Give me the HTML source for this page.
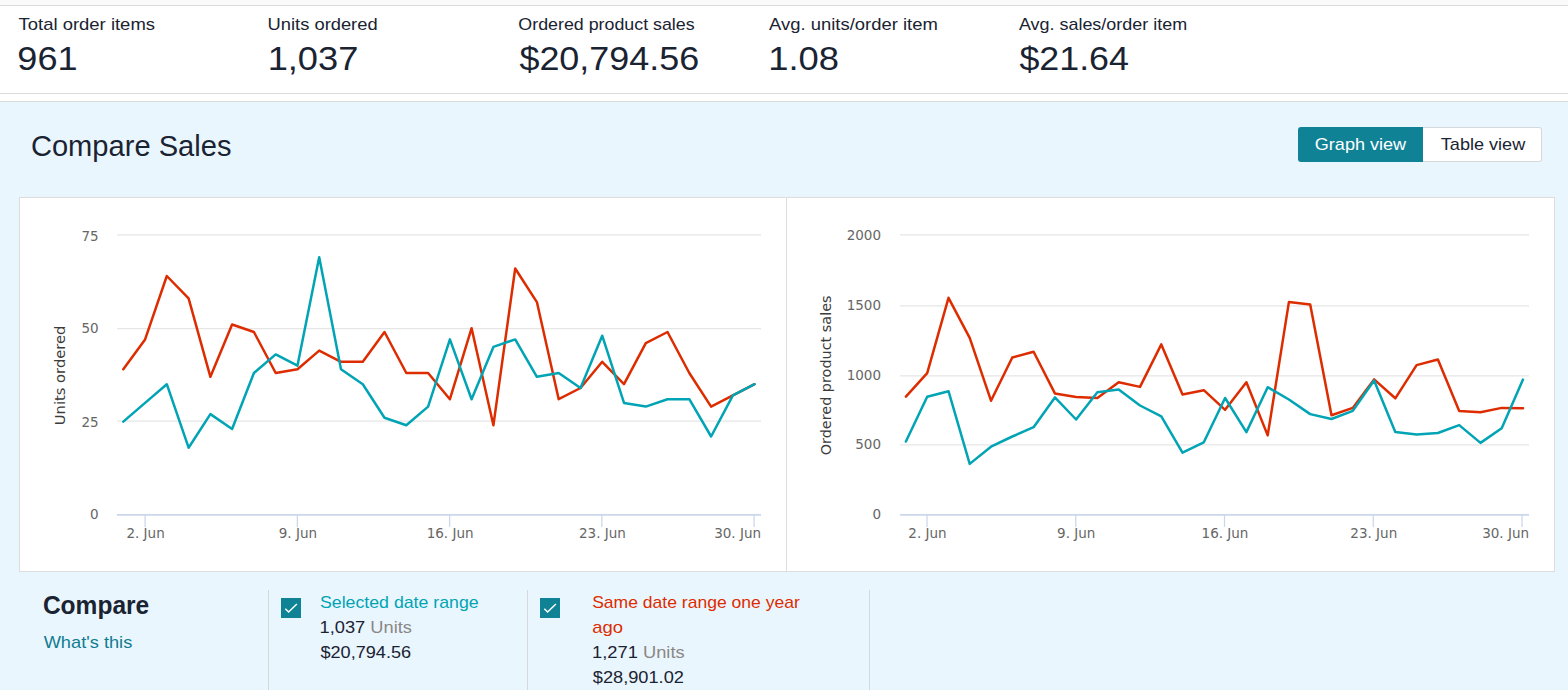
<!DOCTYPE html>
<html><head><meta charset="utf-8"><title>Compare Sales</title>
<style>
html,body{margin:0;padding:0}
body{width:1568px;height:690px;overflow:hidden;position:relative;background:#eaf6fe;font-family:"Liberation Sans",sans-serif;color:#1a2332}
.abs{position:absolute}
#topband{left:0;top:0;width:1568px;height:5px;background:#fafafa}
#metrics{left:0;top:5px;width:1568px;height:87px;background:#fff;border-top:1px solid #dcdcdc;border-bottom:1px solid #d8dadc}
#gap{left:0;top:94px;width:1568px;height:7px;background:#fff;border-bottom:1px solid #d9dbdb}
.tx{position:absolute;left:0;top:0;white-space:nowrap;transform-origin:0 0;display:block}
.b{position:absolute;top:127px;height:35px;box-sizing:border-box}
#b1{left:1298px;width:125px;background:#108296;border-radius:3px 0 0 3px}
#b2{left:1423px;width:119px;background:#fff;border:1px solid #d5d9d9;border-left:none;border-radius:0 3px 3px 0}
#panel{left:19px;top:197px;width:1534px;height:373px;background:#fff;border:1px solid #ddd}
#pdiv{left:786px;top:198px;width:1px;height:373px;background:#ddd}
svg.ch{position:absolute}
.al{font-family:"DejaVu Sans","Liberation Sans",sans-serif;font-size:13.5px;fill:#666}
.at{font-family:"DejaVu Sans","Liberation Sans",sans-serif;font-size:14.6px;fill:#3c3c3c}
.vd{position:absolute;top:590px;width:1px;height:100px;background:#d5d9d9}
.cb{position:absolute;top:598px;width:20px;height:20px;background:#108296}
</style></head><body>
<div id="topband" class="abs"></div>
<div id="metrics" class="abs"></div>
<div id="gap" class="abs"></div>
<div id="b1" class="b"></div><div id="b2" class="b"></div>
<div id="panel" class="abs"></div>
<div id="pdiv" class="abs"></div>
<svg class="ch" style="left:20px;top:198px" width="766" height="371" viewBox="20 198 766 371">
<path d="M117 234.90H761" stroke="#e6e6e6" stroke-width="1.25" fill="none"/>
<text x="98.7" y="240.6" text-anchor="end" class="al">75</text>
<path d="M117 328.60H761" stroke="#e6e6e6" stroke-width="1.25" fill="none"/>
<text x="98.7" y="333.3" text-anchor="end" class="al">50</text>
<path d="M117 421.20H761" stroke="#e6e6e6" stroke-width="1.25" fill="none"/>
<text x="98.7" y="426.8" text-anchor="end" class="al">25</text>
<path d="M117 514.90H761" stroke="#ccd6eb" stroke-width="1.7" fill="none"/>
<text x="98.7" y="519.0" text-anchor="end" class="al">0</text>
<path d="M145.10 514.9V526.9" stroke="#ccd6eb" stroke-width="1.25" fill="none"/>
<text x="145.6" y="538.4" text-anchor="middle" class="al">2. Jun</text>
<path d="M297.35 514.9V526.9" stroke="#ccd6eb" stroke-width="1.25" fill="none"/>
<text x="297.9" y="538.4" text-anchor="middle" class="al">9. Jun</text>
<path d="M449.60 514.9V526.9" stroke="#ccd6eb" stroke-width="1.25" fill="none"/>
<text x="450.1" y="538.4" text-anchor="middle" class="al">16. Jun</text>
<path d="M601.85 514.9V526.9" stroke="#ccd6eb" stroke-width="1.25" fill="none"/>
<text x="602.4" y="538.4" text-anchor="middle" class="al">23. Jun</text>
<path d="M754.10 514.9V526.9" stroke="#ccd6eb" stroke-width="1.25" fill="none"/>
<text x="761" y="538.4" text-anchor="end" class="al">30. Jun</text>
<text transform="translate(64.5 375.4) rotate(-90)" text-anchor="middle" class="at" textLength="99.6" lengthAdjust="spacingAndGlyphs">Units ordered</text>
<polyline points="123.3,369.3 145.1,339.4 166.8,276.0 188.6,298.4 210.4,376.8 232.1,324.5 253.9,332.0 275.7,373.0 297.5,369.3 319.2,350.6 341.0,361.8 362.8,361.8 384.5,332.0 406.3,373.0 428.1,373.0 449.9,399.2 471.6,328.2 493.4,425.3 515.2,268.5 536.9,302.1 558.7,399.2 580.5,388.0 602.2,361.8 624.0,384.2 645.8,343.2 667.5,332.0 689.3,373.0 711.1,406.6 732.9,395.4 754.6,384.2" fill="none" stroke="#dd2c00" stroke-width="2.5" stroke-linejoin="round" stroke-linecap="round"/>
<polyline points="123.3,421.6 145.1,402.9 166.8,384.2 188.6,447.7 210.4,414.1 232.1,429.0 253.9,373.0 275.7,354.4 297.5,365.6 319.2,257.3 341.0,369.3 362.8,384.2 384.5,417.8 406.3,425.3 428.1,406.6 449.9,339.4 471.6,399.2 493.4,346.9 515.2,339.4 536.9,376.8 558.7,373.0 580.5,388.0 602.2,335.7 624.0,402.9 645.8,406.6 667.5,399.2 689.3,399.2 711.1,436.5 732.9,395.4 754.6,384.2" fill="none" stroke="#00a4b4" stroke-width="2.5" stroke-linejoin="round" stroke-linecap="round"/>
</svg>
<svg class="ch" style="left:788px;top:198px" width="766" height="371" viewBox="788 198 766 371">
<path d="M900 234.90H1529" stroke="#e6e6e6" stroke-width="1.25" fill="none"/>
<text x="881" y="239.9" text-anchor="end" class="al">2000</text>
<path d="M900 305.90H1529" stroke="#e6e6e6" stroke-width="1.25" fill="none"/>
<text x="881" y="309.6" text-anchor="end" class="al">1500</text>
<path d="M900 375.90H1529" stroke="#e6e6e6" stroke-width="1.25" fill="none"/>
<text x="881" y="379.6" text-anchor="end" class="al">1000</text>
<path d="M900 444.90H1529" stroke="#e6e6e6" stroke-width="1.25" fill="none"/>
<text x="881" y="448.9" text-anchor="end" class="al">500</text>
<path d="M900 514.90H1529" stroke="#ccd6eb" stroke-width="1.7" fill="none"/>
<text x="881" y="519.0" text-anchor="end" class="al">0</text>
<path d="M927.00 514.9V526.9" stroke="#ccd6eb" stroke-width="1.25" fill="none"/>
<text x="927.5" y="538.4" text-anchor="middle" class="al">2. Jun</text>
<path d="M1075.75 514.9V526.9" stroke="#ccd6eb" stroke-width="1.25" fill="none"/>
<text x="1076.2" y="538.4" text-anchor="middle" class="al">9. Jun</text>
<path d="M1224.50 514.9V526.9" stroke="#ccd6eb" stroke-width="1.25" fill="none"/>
<text x="1225.0" y="538.4" text-anchor="middle" class="al">16. Jun</text>
<path d="M1373.25 514.9V526.9" stroke="#ccd6eb" stroke-width="1.25" fill="none"/>
<text x="1373.8" y="538.4" text-anchor="middle" class="al">23. Jun</text>
<path d="M1522.00 514.9V526.9" stroke="#ccd6eb" stroke-width="1.25" fill="none"/>
<text x="1529" y="538.4" text-anchor="end" class="al">30. Jun</text>
<text transform="translate(831 375.4) rotate(-90)" text-anchor="middle" class="at" textLength="159.8" lengthAdjust="spacingAndGlyphs">Ordered product sales</text>
<polyline points="905.9,396.6 927.2,373.2 948.5,297.8 969.7,337.9 991.0,400.7 1012.3,357.5 1033.6,351.7 1054.9,393.4 1076.1,396.9 1097.4,398.0 1118.7,382.3 1140.0,386.9 1161.3,344.4 1182.5,394.5 1203.8,390.2 1225.1,409.8 1246.4,382.3 1267.7,435.4 1288.9,302.1 1310.2,304.5 1331.5,415.2 1352.8,407.9 1374.1,379.4 1395.3,398.3 1416.6,365.1 1437.9,359.5 1459.2,410.9 1480.5,412.3 1501.7,407.9 1523.0,408.2" fill="none" stroke="#dd2c00" stroke-width="2.5" stroke-linejoin="round" stroke-linecap="round"/>
<polyline points="905.9,441.5 927.2,396.8 948.5,391.2 969.7,463.9 991.0,446.7 1012.3,436.5 1033.6,427.2 1054.9,397.4 1076.1,419.5 1097.4,392.2 1118.7,389.6 1140.0,405.5 1161.3,416.3 1182.5,452.6 1203.8,442.3 1225.1,398.0 1246.4,432.1 1267.7,387.2 1288.9,399.5 1310.2,414.1 1331.5,419.0 1352.8,410.8 1374.1,380.5 1395.3,432.1 1416.6,434.5 1437.9,433.0 1459.2,425.1 1480.5,442.9 1501.7,428.3 1523.0,379.6" fill="none" stroke="#00a4b4" stroke-width="2.5" stroke-linejoin="round" stroke-linecap="round"/>
</svg>
<div class="vd" style="left:268px"></div>
<div class="vd" style="left:527px"></div>
<div class="vd" style="left:869px"></div>
<div class="cb" style="left:281px"><svg width="20" height="20" viewBox="0 0 20 20"><path d="M4.3 10.8L7.6 14L15.9 6" fill="none" stroke="#fff" stroke-width="1.5"/></svg></div>
<div class="cb" style="left:540px"><svg width="20" height="20" viewBox="0 0 20 20"><path d="M4.3 10.8L7.6 14L15.9 6" fill="none" stroke="#fff" stroke-width="1.5"/></svg></div>
<span id="L1" class="tx" style="font-size:17px;line-height:22px;font-weight:400;color:#1a2332;transform:translate(18.50px,14.11px) scaleX(1.0863)">Total order items</span>
<span id="L2" class="tx" style="font-size:17px;line-height:22px;font-weight:400;color:#1a2332;transform:translate(267.60px,14.11px) scaleX(1.0779)">Units ordered</span>
<span id="L3" class="tx" style="font-size:17px;line-height:22px;font-weight:400;color:#1a2332;transform:translate(518.35px,14.11px) scaleX(1.0480)">Ordered product sales</span>
<span id="L4" class="tx" style="font-size:17px;line-height:22px;font-weight:400;color:#1a2332;transform:translate(769.10px,14.11px) scaleX(1.0843)">Avg. units/order item</span>
<span id="L5" class="tx" style="font-size:17px;line-height:22px;font-weight:400;color:#1a2332;transform:translate(1018.90px,14.11px) scaleX(1.0553)">Avg. sales/order item</span>
<span id="V1" class="tx" style="font-size:33.5px;line-height:44px;font-weight:400;color:#1a2332;transform:translate(17.35px,36.74px) scaleX(1.0762)">961</span>
<span id="V2" class="tx" style="font-size:33.5px;line-height:44px;font-weight:400;color:#1a2332;transform:translate(267.65px,36.74px) scaleX(1.0818)">1,037</span>
<span id="V3" class="tx" style="font-size:33.5px;line-height:44px;font-weight:400;color:#1a2332;transform:translate(519.40px,36.74px) scaleX(1.0724)">$20,794.56</span>
<span id="V4" class="tx" style="font-size:33.5px;line-height:44px;font-weight:400;color:#1a2332;transform:translate(768.15px,36.74px) scaleX(1.0857)">1.08</span>
<span id="V5" class="tx" style="font-size:33.5px;line-height:44px;font-weight:400;color:#1a2332;transform:translate(1019.40px,36.74px) scaleX(1.0691)">$21.64</span>
<span id="TT" class="tx" style="font-size:30.1px;line-height:39px;font-weight:400;color:#1a2332;transform:translate(30.90px,126.02px) scaleX(0.9670)">Compare Sales</span>
<span id="B1" class="tx" style="font-size:17px;line-height:22px;font-weight:400;color:#fff;transform:translate(1314.80px,134.21px) scaleX(1.0618)">Graph view</span>
<span id="B2" class="tx" style="font-size:17px;line-height:22px;font-weight:400;color:#1a2332;transform:translate(1440.80px,134.21px) scaleX(1.0633)">Table view</span>
<span id="CP" class="tx" style="font-size:26px;line-height:34px;font-weight:700;color:#1a2332;transform:translate(42.90px,588.49px) scaleX(0.9436)">Compare</span>
<span id="WT" class="tx" style="font-size:17px;line-height:22px;font-weight:400;color:#0f7c90;transform:translate(43.65px,631.61px) scaleX(1.0732)">What's this</span>
<span id="S1" class="tx" style="font-size:17px;line-height:22px;font-weight:400;color:#00a4b4;transform:translate(319.95px,591.71px) scaleX(1.0431)">Selected date range</span>
<span id="S2" class="tx" style="font-size:17px;line-height:22px;font-weight:400;color:#1a2332;transform:translate(319.50px,616.56px) scaleX(1.0744)">1,037 <span style="color:#8a8785">Units</span></span>
<span id="S3" class="tx" style="font-size:17px;line-height:22px;font-weight:400;color:#1a2332;transform:translate(320.45px,641.61px) scaleX(1.0655)">$20,794.56</span>
<span id="R1" class="tx" style="font-size:17px;line-height:22px;font-weight:400;color:#dd2c00;transform:translate(592.15px,591.71px) scaleX(1.0312)">Same date range one year</span>
<span id="R2" class="tx" style="font-size:17px;line-height:22px;font-weight:400;color:#dd2c00;transform:translate(592.25px,616.76px) scaleX(1.0834)">ago</span>
<span id="R3" class="tx" style="font-size:17px;line-height:22px;font-weight:400;color:#1a2332;transform:translate(592.00px,641.71px) scaleX(1.0774)">1,271 <span style="color:#8a8785">Units</span></span>
<span id="R4" class="tx" style="font-size:17px;line-height:22px;font-weight:400;color:#1a2332;transform:translate(592.75px,666.91px) scaleX(1.0714)">$28,901.02</span>
</body></html>
